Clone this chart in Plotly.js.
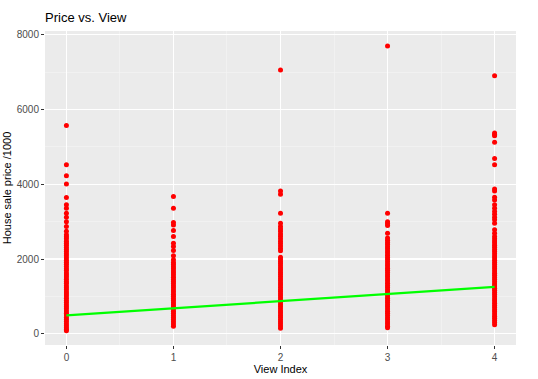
<!DOCTYPE html>
<html>
<head>
<meta charset="utf-8">
<script src="https://cdn.plot.ly/plotly-3.0.1.min.js"></script>
<style>html,body{margin:0;padding:0;background:#fff;}#chart{width:538px;height:379px;}</style>
</head>
<body>
<div id="chart"></div>
<script>
// View index categories
const viewIndex = [0, 1, 2, 3, 4];

// House sale price /1000 for each view index
const priceView0 = [5570, 4520, 4230, 4010, 3645, 3450, 3360, 3225, 3120, 3000, 2870, 2740,
  2650, 2595, 2540, 2478, 2425, 2368, 2310, 2255, 2198, 2140, 2085, 2030, 1968, 1912, 1860, 1798,
  1742, 1690, 1628, 1572, 1520, 1458, 1402, 1350, 1288, 1232, 1180, 1118, 1062, 1010, 948, 892,
  840, 778, 722, 670, 608, 552, 500, 438, 382, 330, 268, 212, 160, 115, 80];
const priceView1 = [3670, 3360, 2980, 2910, 2760, 2600, 2425, 2335, 2230, 2090, 1980,
  1910, 1852, 1795, 1740, 1682, 1625, 1570, 1512, 1455, 1400, 1342, 1285, 1230, 1172, 1115,
  1060, 1002, 945, 890, 832, 775, 720, 662, 605, 550, 492, 435, 380, 322, 265, 200];
const priceView2 = [7060, 3820, 3735, 3225, 2960,
  2870, 2805, 2740, 2672, 2610, 2545, 2478, 2415, 2350, 2282, 2220,
  2050, 1992, 1935, 1878, 1820, 1762, 1705, 1648, 1590, 1532, 1475, 1418, 1360, 1302, 1245,
  1188, 1130, 1072, 1015, 958, 900, 842, 785, 728, 670, 612, 555, 498, 440, 382, 325, 268, 210, 150];
const priceView3 = [7700, 3225, 3000, 2950, 2900, 2690,
  2560, 2502, 2445, 2388, 2330, 2272, 2215, 2158, 2100, 2042, 1985, 1928, 1870, 1812, 1755,
  1698, 1640, 1582, 1525, 1468, 1410, 1352, 1295, 1238, 1180, 1122, 1065, 1008, 950, 892, 835,
  778, 720, 662, 605, 548, 490, 432, 375, 318, 260, 200, 160];
const priceView4 = [6900, 5370, 5330, 5300, 5125, 4690, 4520, 3870, 3820, 3655, 3580, 3450,
  3360, 3270, 3200, 3120, 3050, 2960, 2780, 2690,
  2600, 2542, 2485, 2428, 2370, 2312, 2255, 2198, 2140, 2082, 2025, 1968, 1910, 1852, 1795,
  1738, 1680, 1622, 1565, 1508, 1450, 1392, 1335, 1278, 1220, 1162, 1105, 1048, 990, 932, 875,
  818, 760, 702, 645, 588, 530, 472, 415, 358, 300, 240];
const priceByView = [priceView0, priceView1, priceView2, priceView3, priceView4];

// Fitted regression line
const fitX = [0, 4];
const fitY = [490, 1255];

// Axis tick labels
const xTicks = [0, 1, 2, 3, 4];
const yTicks = [0, 2000, 4000, 6000, 8000];

const px = [], py = [];
priceByView.forEach((arr, i) => arr.forEach(v => { px.push(viewIndex[i]); py.push(v); }));

const traces = [
  {x: px, y: py, type: 'scatter', mode: 'markers',
   marker: {color: '#FF0000', size: 5}, hoverinfo: 'x+y', showlegend: false},
  {x: fitX, y: fitY, type: 'scatter', mode: 'lines',
   line: {color: '#00FF00', width: 2.2}, showlegend: false}
];

const fontFam = 'Liberation Sans, Arial, sans-serif';
const layout = {
  width: 538, height: 379,
  margin: {l: 45, r: 22, t: 31, b: 34},
  paper_bgcolor: '#FFFFFF', plot_bgcolor: '#EBEBEB',
  font: {family: fontFam, color: '#4D4D4D'},
  title: {text: 'Price vs. View', x: 0, xref: 'paper', xanchor: 'left',
          y: 0.955, yref: 'container', yanchor: 'middle',
          font: {size: 13, color: '#000000', family: fontFam}},
  xaxis: {range: [-0.2, 4.2], tickvals: xTicks, ticktext: xTicks.map(String),
          showgrid: true, gridcolor: '#FFFFFF', gridwidth: 1.1, zeroline: false,
          ticks: 'outside', ticklen: 3, tickcolor: '#333333', tickwidth: 1,
          tickfont: {size: 10, color: '#4D4D4D'}, showline: false,
          minor: {dtick: 0.5, tick0: 0, showgrid: true, gridcolor: '#F5F5F5', gridwidth: 0.6, ticks: ''},
          title: {text: 'View Index', font: {size: 11, color: '#000000'}, standoff: 2}},
  yaxis: {range: [-300, 8100], tickvals: yTicks, ticktext: yTicks.map(String),
          showgrid: true, gridcolor: '#FFFFFF', gridwidth: 1.1, zeroline: false,
          ticks: 'outside', ticklen: 3, tickcolor: '#333333', tickwidth: 1,
          tickfont: {size: 10, color: '#4D4D4D'}, showline: false,
          minor: {dtick: 1000, tick0: 0, showgrid: true, gridcolor: '#F5F5F5', gridwidth: 0.6, ticks: ''},
          title: {text: 'House sale price /1000', font: {size: 11, color: '#000000'}, standoff: 2}}
};

Plotly.newPlot('chart', traces, layout, {displayModeBar: false, staticPlot: true});
</script>
</body>
</html>
